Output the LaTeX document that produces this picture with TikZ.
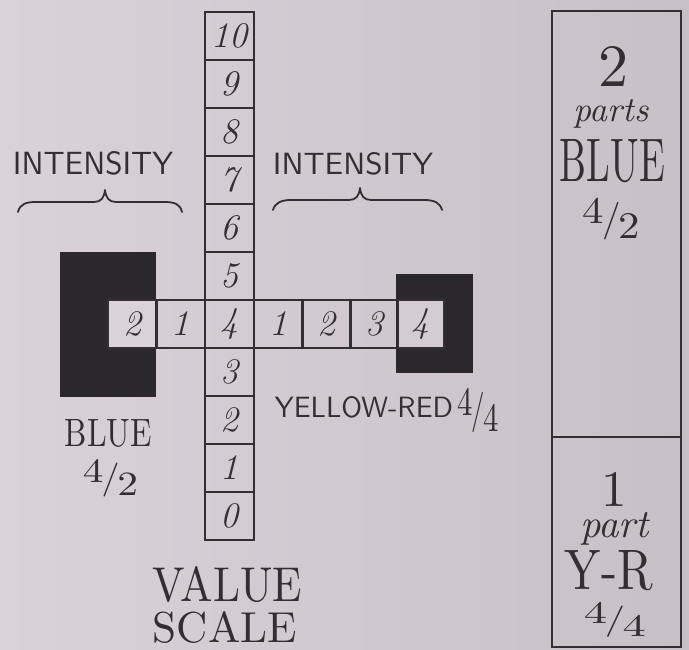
\documentclass[tikz,border=0pt]{standalone}
\usepackage{graphicx}
\definecolor{paper}{HTML}{D9D2D7}
\definecolor{paperR}{HTML}{C8C0C7}
\definecolor{paperM}{HTML}{D3CCD1}
\definecolor{ink}{HTML}{332E31}
\definecolor{dark}{HTML}{2A282B}
\newcommand\myfrac[2]{\raisebox{0.22em}{\scalebox{1.15}{#1}}\kern-0.06em\scalebox{1}[1.15]{/}\kern-0.06em\raisebox{-0.24em}{\scalebox{1.15}{#2}}}
\begin{document}
\begin{tikzpicture}[x=1pt,y=-1pt,
  cell/.style={draw=ink, line width=1.6pt, minimum width=49pt, minimum height=48pt,
    inner sep=0pt, anchor=north west, text=ink, font=\fontsize{36}{36}\selectfont\itshape},
  lbl/.style={inner sep=0pt, text=ink},
  bracepath/.style={draw=ink, line width=1.8pt, line cap=round, line join=round},
  boxline/.style={draw=ink, line width=1.6pt}]
\useasboundingbox (0,0) rectangle (689,650);
\shade[left color=paper, right color=paperR] (0,0) rectangle (689,650);

% dark colour samples
\fill[dark] (60,252) rectangle (156,397);
\fill[dark] (396,274) rectangle (473,373);

% value scale column
\node[cell] (v10) at (204,11) {10};
\node[cell] (v9) at (204,59) {9};
\node[cell] (v8) at (204,107) {8};
\node[cell] (v7) at (204,155) {7};
\node[cell] (v6) at (204,203) {6};
\node[cell] (v5) at (204,251) {5};
\node[cell] (v4) at (204,299) {4};
\node[cell] (v3) at (204,347) {3};
\node[cell] (v2) at (204,395) {2};
\node[cell] (v1) at (204,443) {1};
\node[cell] (v0) at (204,491) {0};

% intensity row
\node[cell, fill=paper] (hL2) at (107,299) {2};
\node[cell] (hL1) at (155,299) {1};
\node[cell] (hR1) at (253,299) {1};
\node[cell] (hR2) at (301,299) {2};
\node[cell] (hR3) at (349,299) {3};
\node[cell, fill=paperM, minimum width=46pt] (hR4) at (397,299) {4};

% intensity labels and braces
\node[lbl] (intL) at (93,163.5) {\resizebox{160pt}{23pt}{\sffamily INTENSITY}};
\node[lbl] (intR) at (353,164) {\resizebox{160pt}{22pt}{\sffamily INTENSITY}};
\draw[bracepath] (18,212) .. controls (20,204) and (26,202) .. (36,202) -- (94,202)
  .. controls (101,202) and (104,198) .. (105,190)
  .. controls (106,198) and (109,202) .. (116,202) -- (164,202)
  .. controls (175,202) and (180,204) .. (182,212);
\draw[bracepath] (273,210) .. controls (275,203) and (281,200) .. (291,200) -- (349,200)
  .. controls (356,200) and (359,196) .. (360,188)
  .. controls (361,196) and (364,200) .. (371,200) -- (424,200)
  .. controls (435,200) and (440,203) .. (442,210);

% labels under samples
\node[lbl] (blueL) at (108.5,433.5) {\resizebox{87pt}{27pt}{BLUE}};
\node[lbl] (blueLv) at (110.5,478) {\resizebox*{55pt}{38pt}{\myfrac{4}{2}}};
\node[lbl] (yr) at (364,407.5) {\resizebox{178pt}{21pt}{\sffamily YELLOW-RED}};
\node[lbl] (yrv) at (478,410.5) {\resizebox*{41pt}{45pt}{\myfrac{4}{4}}};

% value scale title
\node[lbl] (valt) at (227.5,584.5) {\resizebox{149pt}{35pt}{VALUE}};
\node[lbl] (scalt) at (225,627) {\resizebox{144pt}{31pt}{SCALE}};

% mixture box
\draw[boxline] (552,11) rectangle (681,647);
\draw[boxline] (552,437) -- (681,437);
\node[lbl] (n2) at (614,66.5) {\resizebox{!}{40pt}{2}};
\node[lbl, anchor=base] (parts) at (611,122) {\resizebox{75pt}{!}{\itshape parts}};
\node[lbl] (blueR) at (612.5,161) {\resizebox{105pt}{42pt}{BLUE}};
\node[lbl] (blueRv) at (611.5,219) {\resizebox*{57pt}{42pt}{\myfrac{4}{2}}};
\node[lbl] (n1) at (614,489) {\resizebox{!}{34pt}{1}};
\node[lbl, anchor=base] (part) at (614.5,537) {\resizebox{69pt}{!}{\itshape part}};
\node[lbl] (yrR) at (609,571) {\resizebox{88pt}{39pt}{Y-R}};
\node[lbl] (yrRv) at (615,620) {\resizebox*{62pt}{35pt}{\myfrac{4}{4}}};
\end{tikzpicture}
\end{document}
